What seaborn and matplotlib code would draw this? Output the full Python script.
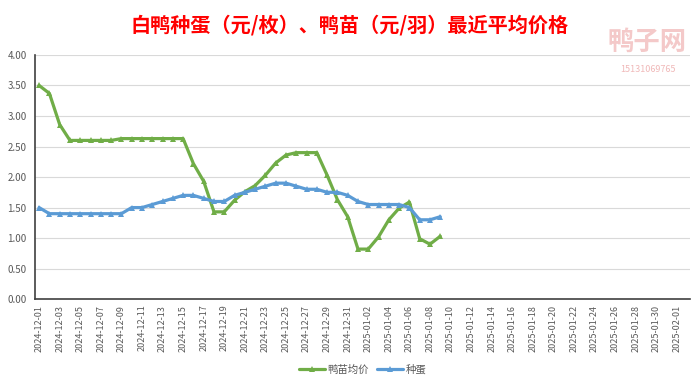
import pandas as pd
import numpy as np
import matplotlib.pyplot as plt
import matplotlib.dates as mdates
import seaborn as sns

# daily prices, 2024-12-01 .. 2025-01-09
dates = pd.date_range('2024-12-01', '2025-01-09', freq='D')
duckling = [3.50, 3.37, 2.86, 2.60, 2.60, 2.60, 2.60, 2.60, 2.63, 2.63,
            2.63, 2.63, 2.63, 2.63, 2.63, 2.22, 1.93, 1.43, 1.43, 1.62,
            1.76, 1.86, 2.03, 2.23, 2.36, 2.40, 2.40, 2.40, 2.03, 1.63,
            1.35, 0.82, 0.82, 1.02, 1.30, 1.49, 1.59, 0.99, 0.90, 1.03]
egg = [1.50, 1.40, 1.40, 1.40, 1.40, 1.40, 1.40, 1.40, 1.40, 1.50,
       1.50, 1.55, 1.60, 1.65, 1.70, 1.70, 1.65, 1.60, 1.60, 1.70,
       1.75, 1.80, 1.85, 1.90, 1.90, 1.85, 1.80, 1.80, 1.75, 1.75,
       1.70, 1.60, 1.55, 1.55, 1.55, 1.55, 1.50, 1.30, 1.30, 1.35]
tick_dates = pd.date_range('2024-12-01', '2025-02-01', freq='2D')

df = pd.DataFrame({'date': dates, '鸭苗均价': duckling, '种蛋': egg})
long = df.melt(id_vars='date', var_name='series', value_name='price')

sns.set_style('white')
plt.rcParams['font.family'] = ['Noto Sans CJK SC', 'DejaVu Sans']

fig = plt.figure(figsize=(7, 3.87), dpi=100)
ax = fig.add_axes([0.05, 0.227, 0.936, 0.631])

sns.lineplot(data=long, x='date', y='price', hue='series',
             palette={'鸭苗均价': '#70AD47', '种蛋': '#5B9BD5'},
             marker='^', markersize=5, markeredgewidth=0, linewidth=2.3,
             ax=ax)

ax.set_ylim(0, 4)
ax.set_yticks(np.arange(0, 4.01, 0.5))
ax.yaxis.set_major_formatter(plt.FormatStrFormatter('%.2f'))
ax.grid(axis='y', color='#d9d9d9', linewidth=0.8)
ax.set_xlim(tick_dates[0] - pd.Timedelta(days=0.4),
            tick_dates[-1] + pd.Timedelta(days=1.3))
ax.set_xticks(tick_dates)
ax.xaxis.set_major_formatter(mdates.DateFormatter('%Y-%m-%d'))
ax.tick_params(axis='x', labelrotation=90, labelsize=6.5, colors='#595959', length=0, pad=4)
ax.tick_params(axis='y', labelsize=7, colors='#595959', length=0, pad=6)
ax.set_xlabel('')
ax.set_ylabel('')
for s in ['top', 'right']:
    ax.spines[s].set_visible(False)
for s in ['left', 'bottom']:
    ax.spines[s].set_color('#404040')
    ax.spines[s].set_linewidth(1.2)

ax.legend(loc='center', bbox_to_anchor=(0.5, -0.287), ncol=2, frameon=False,
          fontsize=7.5, handlelength=2.5, columnspacing=0.8, handletextpad=0.2,
          labelcolor='#595959')

fig.text(0.5, 0.935, '白鸭种蛋（元/枚）、鸭苗（元/羽）最近平均价格',
         ha='center', va='center', color='#ff0000', fontsize=14.5, fontweight='bold')
# faint watermark
fig.text(0.925, 0.89, '鸭子网', ha='center', va='center', color='#f4c9c9',
         fontsize=19, fontweight='bold')
fig.text(0.925, 0.82, '15131069765', ha='center', va='center', color='#f0b8b8',
         fontsize=6.5)

fig.savefig('out.png', dpi=100)
